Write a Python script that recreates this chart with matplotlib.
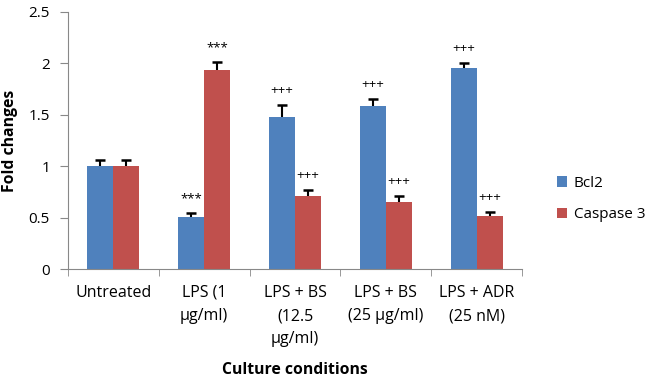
import matplotlib
matplotlib.use("Agg")
import matplotlib.pyplot as plt
import numpy as np

categories = ["Untreated", "LPS (1\nµg/ml)", "LPS + BS\n(12.5\nµg/ml)", "LPS + BS\n(25 µg/ml)", "LPS + ADR\n(25 nM)"]
bcl2 = [1.00, 0.51, 1.48, 1.59, 1.96]
bcl2_err = [0.06, 0.035, 0.12, 0.065, 0.045]
casp3 = [1.00, 1.94, 0.71, 0.65, 0.52]
casp3_err = [0.06, 0.07, 0.065, 0.065, 0.04]
bcl2_sig = ["", "***", "+++", "+++", "+++"]
casp3_sig = ["", "***", "+++", "+++", "+++"]

plt.rcParams['font.family'] = ['Open Sans', 'DejaVu Sans']

fig = plt.figure(figsize=(6.46, 3.83), dpi=100)
ax = fig.add_axes([68/646, 1-269.3/383, (522-68)/646, (269.3-12)/383])

x = np.arange(len(categories))
w = 1/3.5
blue = "#4F81BD"
red = "#C0504D"
ax.bar(x - w/2, bcl2, w, color=blue, label="Bcl2")
ax.bar(x + w/2, casp3, w, color=red, label="Caspase 3")

for xs, vals, errs in [(x - w/2, bcl2, bcl2_err), (x + w/2, casp3, casp3_err)]:
    tops = np.array(vals) + np.array(errs)
    ax.vlines(xs, vals, tops, color='black', linewidth=1.5, zorder=3)
    ax.plot(xs, tops, linestyle='none', marker='_', markersize=6.5, markeredgewidth=1.8, color='black', zorder=3)

for i in range(5):
    if bcl2_sig[i]:
        ax.text(x[i] - w/2, bcl2[i] + bcl2_err[i] + 0.14, bcl2_sig[i], ha='center', va='center', fontsize=9.5)
    if casp3_sig[i]:
        ax.text(x[i] + w/2, casp3[i] + casp3_err[i] + 0.14, casp3_sig[i], ha='center', va='center', fontsize=9.5)

ax.set_xlim(-0.5, 4.5)
ax.set_ylim(0, 2.5)
ax.set_yticks([0, 0.5, 1, 1.5, 2, 2.5])
ax.set_yticklabels(["0", "0.5", "1", "1.5", "2", "2.5"])
ax.set_xticks(x)
ax.set_xticklabels(categories, fontsize=11.5, va='top', linespacing=1.62)
ax.set_xticks(np.arange(-0.5, 5.0, 1), minor=True)
ax.tick_params(axis='x', which='major', length=0, pad=11)
ax.tick_params(axis='x', which='minor', length=5, color='#888888')
ax.tick_params(axis='y', length=6, color='#888888', labelsize=11, pad=7)
for s in ['top', 'right']:
    ax.spines[s].set_visible(False)
for s in ['left', 'bottom']:
    ax.spines[s].set_color('#888888')

fig.text(10/646, 1-141/383, "Fold changes", rotation=90, ha='center', va='center', fontsize=11.3, fontweight='bold')
fig.text(295/646, 1-370/383, "Culture conditions", ha='center', va='center', fontsize=11.3, fontweight='bold')

fig.legend(loc='center left', bbox_to_anchor=(543/646, 1-199/383), frameon=False, fontsize=11,
           handlelength=0.7, handleheight=0.7, labelspacing=1.1, handletextpad=0.4)

fig.savefig("out.png", dpi=100)
